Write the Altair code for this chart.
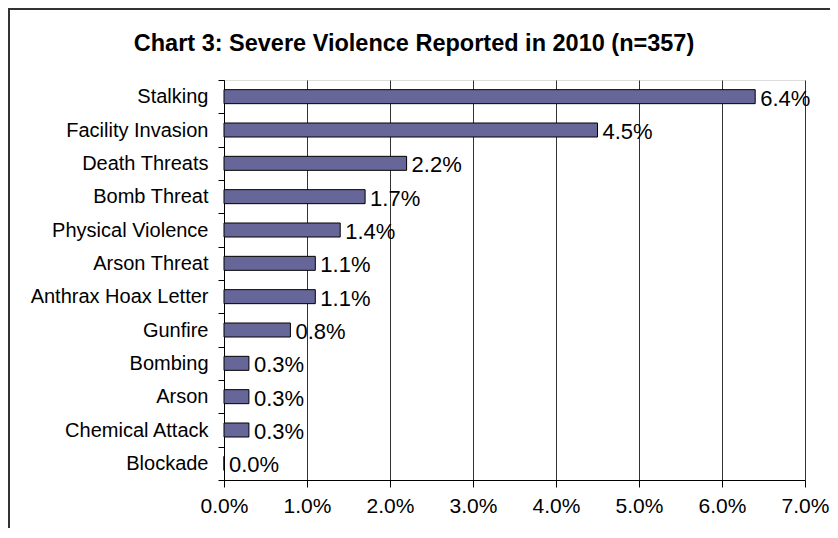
import altair as alt
import pandas as pd

categories = ["Stalking", "Facility Invasion", "Death Threats", "Bomb Threat",
              "Physical Violence", "Arson Threat", "Anthrax Hoax Letter", "Gunfire",
              "Bombing", "Arson", "Chemical Attack", "Blockade"]
values = [0.064, 0.045, 0.022, 0.017, 0.014, 0.011, 0.011, 0.008, 0.003, 0.003, 0.003, 0.0]
x_ticks = [0.0, 0.01, 0.02, 0.03, 0.04, 0.05, 0.06, 0.07]
title_text = "Chart 3: Severe Violence Reported in 2010 (n=357)"

df = pd.DataFrame({"cat": categories, "val": values})

FONT = "Liberation Sans"

y_enc = alt.Y("cat:N", sort=categories, title=None,
              scale=alt.Scale(paddingInner=0, paddingOuter=0),
              axis=alt.Axis(tickBand="extent", tickSize=6, tickColor="black",
                            domainColor="black", labelFont=FONT, labelFontSize=20,
                            labelColor="black", labelPadding=10, grid=False))
x_enc = alt.X("val:Q", title=None,
              scale=alt.Scale(domain=[0, 0.07], nice=False),
              axis=alt.Axis(values=x_ticks, format=".1%", tickSize=7, tickColor="black",
                            domainColor="black", grid=True, gridColor="#333333",
                            gridOpacity=1, labelFont=FONT, labelFontSize=21,
                            labelColor="black", labelPadding=8, labelFlush=False))

bars = alt.Chart(df).mark_bar(size=14, color="#666699", stroke="black", strokeWidth=1).encode(
    x=x_enc, y=y_enc)

labels = alt.Chart(df).mark_text(align="left", baseline="middle", dx=5, dy=2,
                                 font=FONT, fontSize=22, color="black").encode(
    x=alt.X("val:Q"), y=alt.Y("cat:N", sort=categories),
    text=alt.Text("val:Q", format=".1%"))

frame_data = alt.Data(values=[{"k": 1}])
top_line = alt.Chart(frame_data).mark_rule(color="#333333", strokeWidth=2).encode(
    x=alt.value(-216), x2=alt.value(700), y=alt.value(-71))
left_line = alt.Chart(frame_data).mark_rule(color="#333333", strokeWidth=2).encode(
    x=alt.value(-215), y=alt.value(-72), y2=alt.value(460))
title = alt.Chart(frame_data).mark_text(font=FONT, fontSize=23.5, fontWeight="bold",
                                        color="black", align="center", baseline="middle").encode(
    x=alt.value(190), y=alt.value(-36), text=alt.value(title_text))

chart = alt.layer(bars, labels, top_line, left_line, title).properties(
    width=581, height=400,
    autosize=alt.AutoSizeParams(type="none"),
    padding={"left": 216, "top": 72, "right": 25, "bottom": 48},
).configure_view(stroke=None).configure(background="white")

chart.save("out.html", embed_options={"renderer": "svg", "actions": False})
